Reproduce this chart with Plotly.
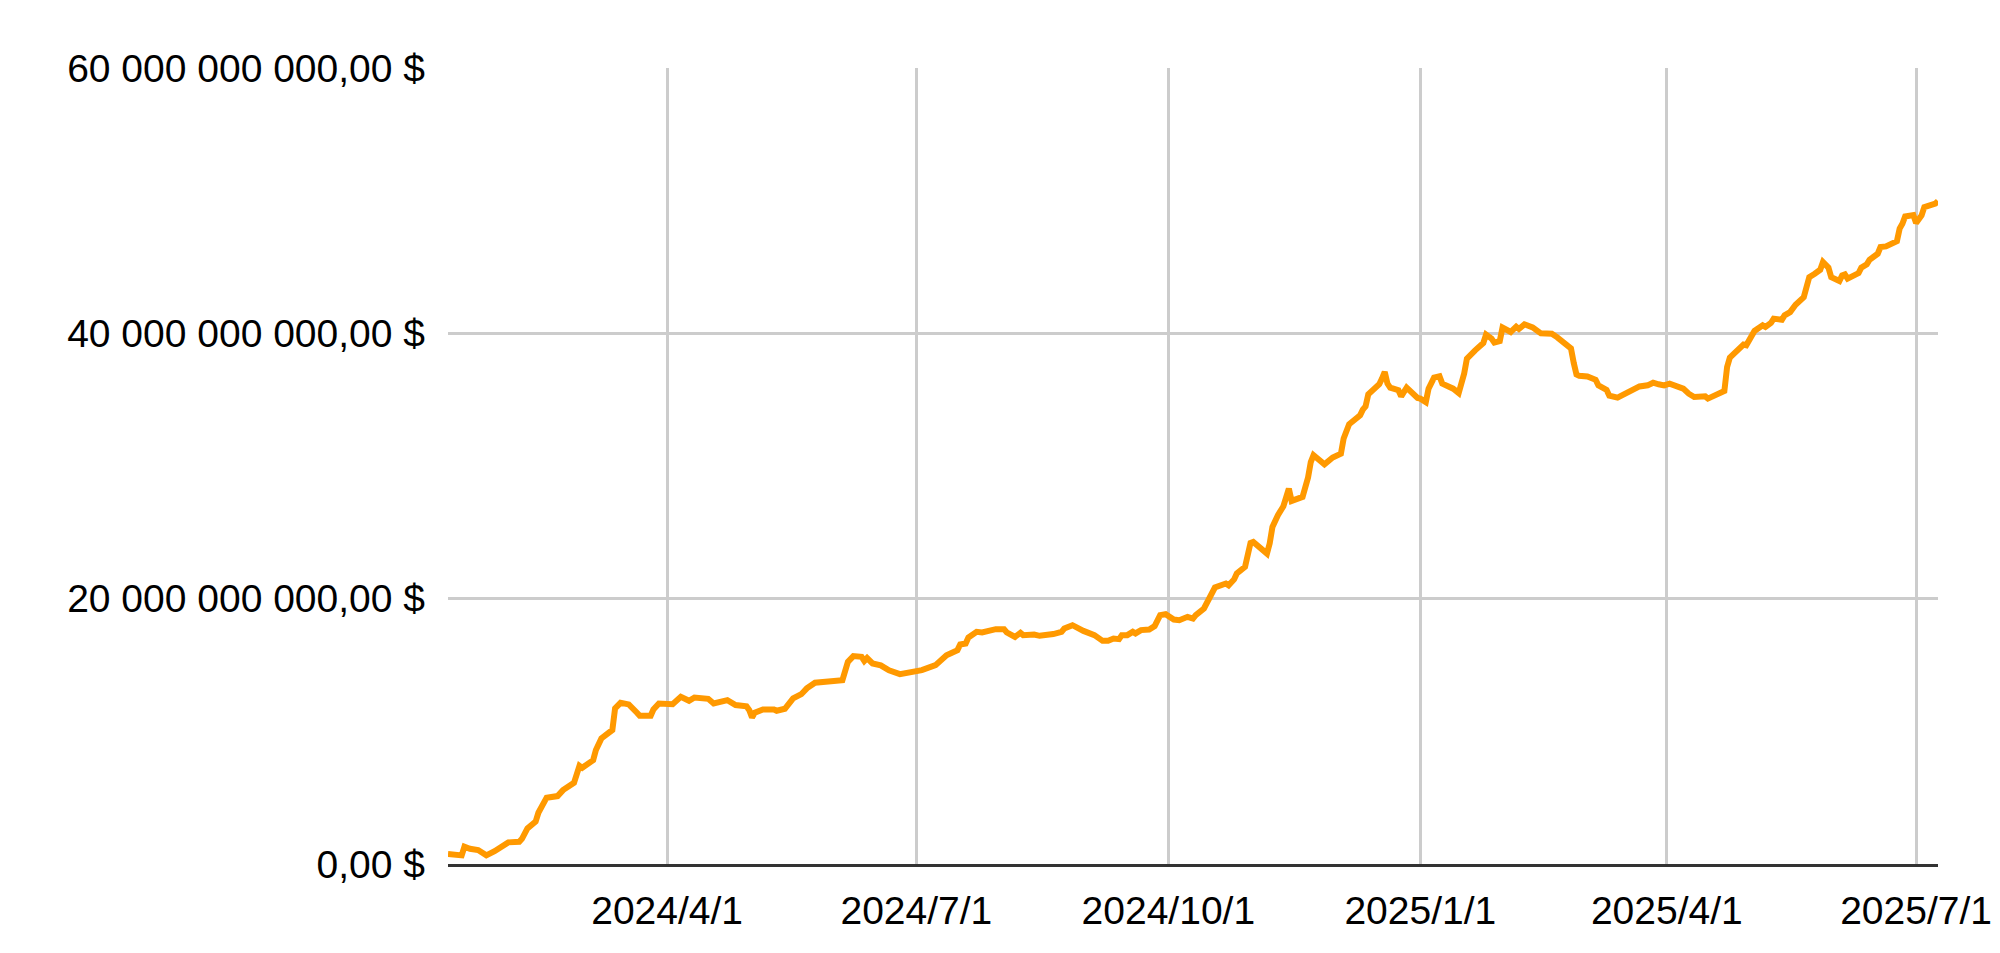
import plotly.graph_objects as go

# Daily value (billions of $)
dates = [
    '2024-01-12', '2024-01-17', '2024-01-18', '2024-01-20', '2024-01-23', '2024-01-26', '2024-01-29',
    '2024-02-01', '2024-02-03', '2024-02-07', '2024-02-08', '2024-02-10', '2024-02-13', '2024-02-14',
    '2024-02-17', '2024-02-21', '2024-02-23', '2024-02-27', '2024-02-29', '2024-03-01', '2024-03-05',
    '2024-03-06', '2024-03-08', '2024-03-12', '2024-03-13', '2024-03-15', '2024-03-18', '2024-03-21',
    '2024-03-22', '2024-03-26', '2024-03-27', '2024-03-29', '2024-04-02', '2024-04-03', '2024-04-06',
    '2024-04-09', '2024-04-11', '2024-04-16', '2024-04-18', '2024-04-23', '2024-04-26', '2024-04-30',
    '2024-05-01', '2024-05-02', '2024-05-03', '2024-05-06', '2024-05-10', '2024-05-11', '2024-05-14',
    '2024-05-17', '2024-05-20', '2024-05-22', '2024-05-25', '2024-05-29', '2024-06-04', '2024-06-06',
    '2024-06-08', '2024-06-11', '2024-06-12', '2024-06-13', '2024-06-15', '2024-06-18', '2024-06-21',
    '2024-06-25', '2024-06-28', '2024-07-01', '2024-07-03', '2024-07-08', '2024-07-10', '2024-07-12',
    '2024-07-16', '2024-07-17', '2024-07-19', '2024-07-20', '2024-07-23', '2024-07-25', '2024-07-30',
    '2024-08-02', '2024-08-03', '2024-08-06', '2024-08-08', '2024-08-09', '2024-08-13', '2024-08-15',
    '2024-08-20', '2024-08-23', '2024-08-24', '2024-08-27', '2024-08-31', '2024-09-04', '2024-09-07',
    '2024-09-09', '2024-09-11', '2024-09-13', '2024-09-14', '2024-09-16', '2024-09-18', '2024-09-19',
    '2024-09-21', '2024-09-24', '2024-09-26', '2024-09-28', '2024-09-30', '2024-10-03', '2024-10-05',
    '2024-10-08', '2024-10-10', '2024-10-11', '2024-10-14', '2024-10-16', '2024-10-18', '2024-10-22',
    '2024-10-23', '2024-10-25', '2024-10-26', '2024-10-29', '2024-10-31', '2024-11-01', '2024-11-04',
    '2024-11-06', '2024-11-07', '2024-11-08', '2024-11-10', '2024-11-12', '2024-11-14', '2024-11-15',
    '2024-11-19', '2024-11-21', '2024-11-22', '2024-11-23', '2024-11-27', '2024-11-30', '2024-12-03',
    '2024-12-04', '2024-12-06', '2024-12-08', '2024-12-10', '2024-12-11', '2024-12-12', '2024-12-13',
    '2024-12-15', '2024-12-17', '2024-12-18', '2024-12-19', '2024-12-20', '2024-12-21', '2024-12-24',
    '2024-12-25', '2024-12-27', '2024-12-29', '2024-12-31', '2025-01-01', '2025-01-03', '2025-01-04',
    '2025-01-06', '2025-01-08', '2025-01-09', '2025-01-13', '2025-01-15', '2025-01-17', '2025-01-18',
    '2025-01-21', '2025-01-24', '2025-01-25', '2025-01-27', '2025-01-28', '2025-01-30', '2025-01-31',
    '2025-02-03', '2025-02-05', '2025-02-06', '2025-02-08', '2025-02-11', '2025-02-14', '2025-02-18',
    '2025-02-20', '2025-02-22', '2025-02-25', '2025-02-26', '2025-02-27', '2025-02-28', '2025-03-03',
    '2025-03-06', '2025-03-07', '2025-03-10', '2025-03-11', '2025-03-14', '2025-03-17', '2025-03-19',
    '2025-03-20', '2025-03-22', '2025-03-25', '2025-03-27', '2025-03-29', '2025-03-31', '2025-04-02',
    '2025-04-05', '2025-04-07', '2025-04-09', '2025-04-11', '2025-04-15', '2025-04-16', '2025-04-22',
    '2025-04-23', '2025-04-24', '2025-04-26', '2025-04-29', '2025-04-30', '2025-05-02', '2025-05-03',
    '2025-05-06', '2025-05-07', '2025-05-09', '2025-05-10', '2025-05-13', '2025-05-14', '2025-05-16',
    '2025-05-18', '2025-05-21', '2025-05-22', '2025-05-23', '2025-05-25', '2025-05-27', '2025-05-28',
    '2025-05-30', '2025-05-31', '2025-06-03', '2025-06-04', '2025-06-05', '2025-06-06', '2025-06-10',
    '2025-06-11', '2025-06-13', '2025-06-14', '2025-06-17', '2025-06-18', '2025-06-20', '2025-06-24',
    '2025-06-25', '2025-06-26', '2025-06-27', '2025-06-30', '2025-07-01', '2025-07-03', '2025-07-04',
    '2025-07-06', '2025-07-08', '2025-07-09',
]
values = [
    0.75, 0.65, 1.30, 1.15, 1.05, 0.65, 0.96,
    1.40, 1.63, 1.68, 1.90, 2.69, 3.20, 3.86,
    5.00, 5.12, 5.57, 6.12, 7.40, 7.25, 7.83,
    8.59, 9.47, 10.10, 11.73, 12.15, 12.03, 11.40,
    11.17, 11.17, 11.65, 12.10, 11.98, 12.05, 12.60,
    12.30, 12.55, 12.45, 12.10, 12.35, 11.98, 11.88,
    11.60, 11.05, 11.40, 11.65, 11.65, 11.55, 11.70,
    12.48, 12.80, 13.24, 13.66, 13.71, 13.86, 15.24,
    15.67, 15.62, 15.31, 15.52, 15.12, 14.97, 14.60,
    14.31, 14.41, 14.61, 14.61, 14.99, 15.37, 15.74,
    16.12, 16.55, 16.62, 17.07, 17.50, 17.45, 17.70,
    17.70, 17.45, 17.12, 17.42, 17.25, 17.30, 17.20,
    17.33, 17.50, 17.75, 18.00, 17.57, 17.25, 16.82,
    16.82, 17.00, 16.95, 17.25, 17.25, 17.50, 17.38,
    17.63, 17.68, 17.93, 18.76, 18.83, 18.43, 18.38,
    18.63, 18.50, 18.76, 19.26, 20.00, 20.84, 21.14,
    21.00, 21.45, 21.90, 22.40, 24.20, 24.28, 23.70,
    23.40, 24.16, 25.41, 26.29, 26.97, 28.30, 27.37,
    27.67, 29.13, 30.30, 30.81, 30.13, 30.64, 30.93,
    32.07, 33.15, 33.52, 33.82, 34.25, 34.50, 35.40,
    35.71, 36.16, 36.59, 37.09, 36.21, 35.91, 35.71,
    35.25, 35.91, 35.46, 35.13, 35.08, 34.82, 35.83,
    36.66, 36.76, 36.21, 35.83, 35.50, 36.96, 38.09,
    38.72, 39.27, 39.90, 39.60, 39.30, 39.42, 40.43,
    40.10, 40.50, 40.33, 40.68, 40.45, 40.00, 39.97,
    39.70, 39.33, 38.87, 37.78, 36.90, 36.80, 36.75,
    36.50, 36.08, 35.73, 35.30, 35.15, 35.45, 35.71,
    35.83, 36.00, 36.08, 36.28, 36.16, 36.08, 36.21,
    35.96, 35.83, 35.45, 35.20, 35.25, 35.08, 35.65,
    37.46, 38.17, 38.52, 39.15, 39.10, 39.72, 40.18,
    40.60, 40.48, 40.78, 41.11, 41.03, 41.36, 41.60,
    42.16, 42.73, 43.49, 44.24, 44.49, 44.79, 45.37,
    44.95, 44.24, 43.94, 44.37, 44.44, 44.12, 44.54,
    44.95, 45.20, 45.55, 46.00, 46.50, 46.55, 46.95,
    47.89, 48.26, 48.81, 48.91, 48.31, 48.89, 49.51,
    49.64, 49.77, 49.97,
]

# axis ticks
x_ticks = ['2024-04-01', '2024-07-01', '2024-10-01', '2025-01-01', '2025-04-01', '2025-07-01']
x_labels = ['2024/4/1', '2024/7/1', '2024/10/1', '2025/1/1', '2025/4/1', '2025/7/1']
y_ticks = [0, 20, 40, 60]
y_labels = ['0,00 $', '20 000 000 000,00 $', '40 000 000 000,00 $', '60 000 000 000,00 $']

fig = go.Figure()
fig.add_trace(go.Scatter(x=dates, y=values, mode='lines',
                         line=dict(color='#ff9900', width=6), showlegend=False))

# page body has an 8px margin, so the figure is sized to sit inside it
fig.update_layout(
    width=1984, height=937,
    margin=dict(l=440, r=54, t=60, b=81),
    paper_bgcolor='white', plot_bgcolor='white',
    font=dict(family='Liberation Sans, Arial, sans-serif', size=39, color='#000000'),
)
fig.update_xaxes(
    type='date', range=[dates[0], dates[-1]],
    tickvals=x_ticks, ticktext=x_labels,
    showgrid=True, gridcolor='#cccccc', gridwidth=2.5,
    showline=True, linecolor='#333333', linewidth=3,
    ticks='', ticklabelstandoff=10, zeroline=False, automargin=False,
)
fig.update_yaxes(
    range=[0, 60], tickvals=y_ticks, ticktext=y_labels,
    showgrid=True, gridcolor='#cccccc', gridwidth=2.5,
    zeroline=False, ticks='', ticklabelstandoff=22, automargin=False,
)

fig.write_html("out.html")
